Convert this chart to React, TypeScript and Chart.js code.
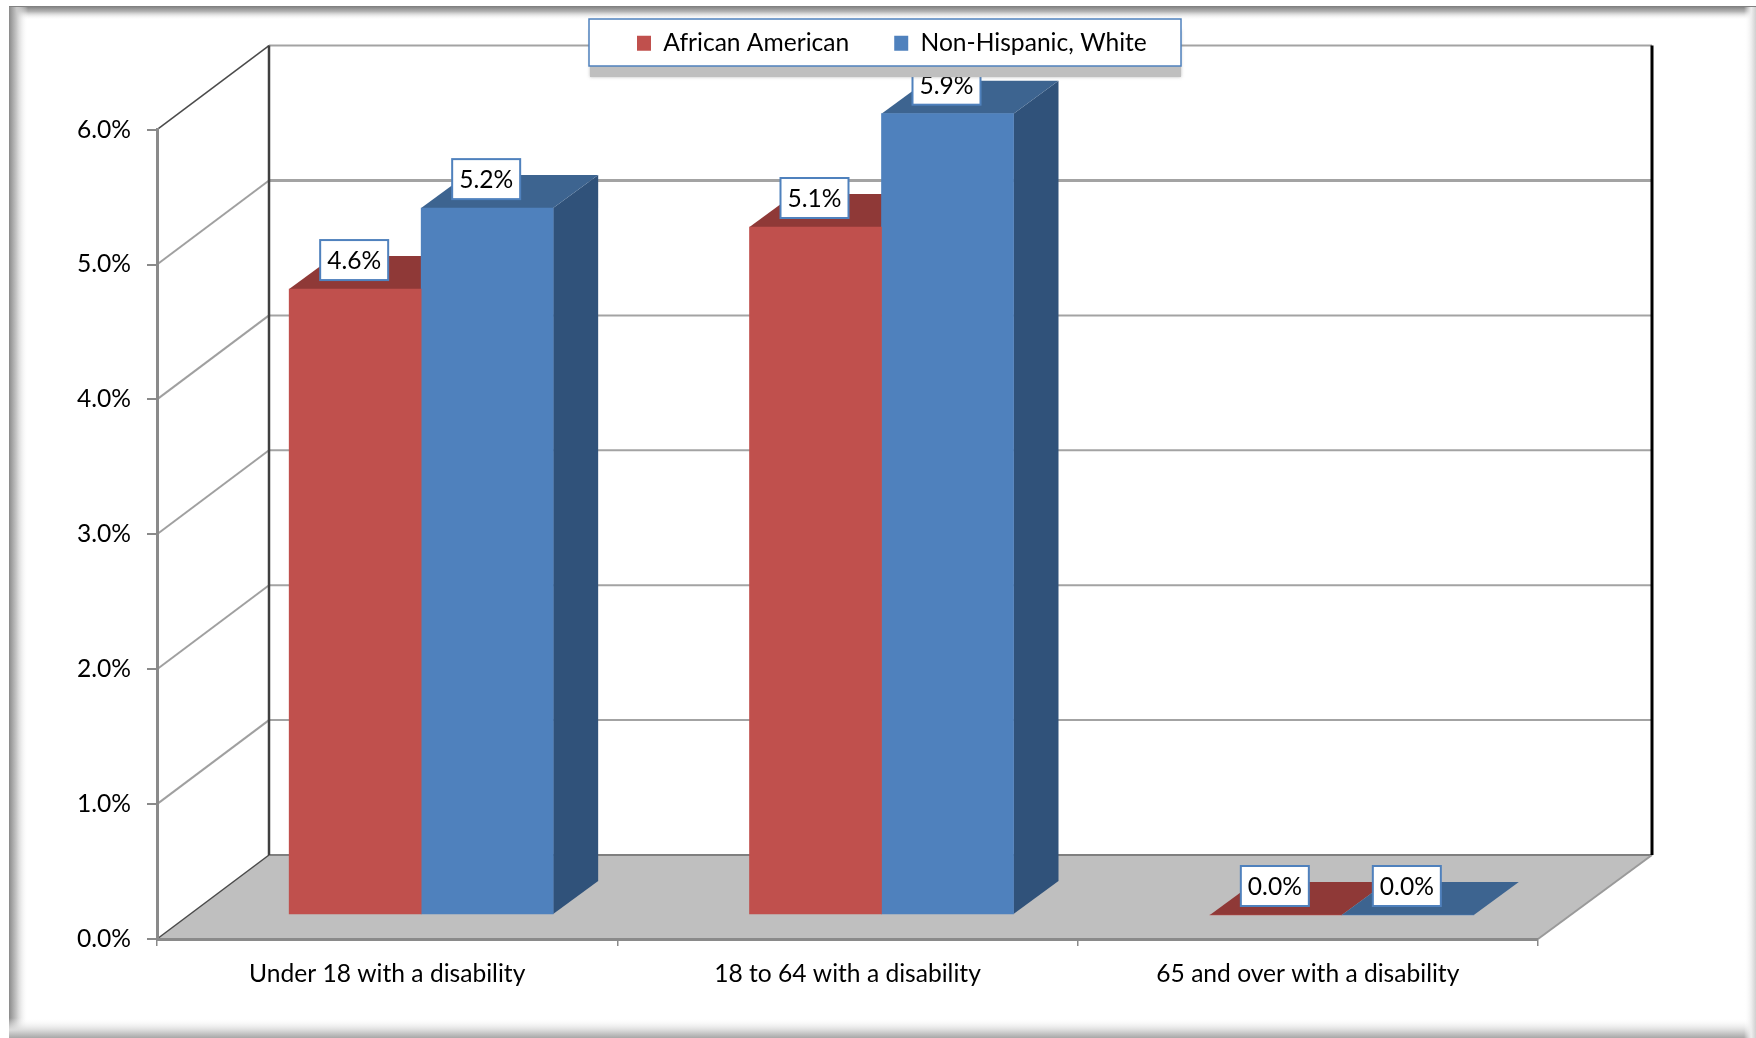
import React, { useEffect, useRef } from "react";
import { Chart, registerables } from "chart.js";

Chart.register(...registerables);

const categories = ["Under 18 with a disability", "18 to 64 with a disability", "65 and over with a disability"];
const seriesNames = ["African American", "Non-Hispanic, White"];
const africanAmerican = [4.64, 5.1, 0];
const nonHispanicWhite = [5.24, 5.94, 0];
const yTicks = [0, 1, 2, 3, 4, 5, 6];

const FONT = "Lato";
const FONT_SIZE = 24.6;
const RED = "#c0504d";
const BLUE = "#4f81bd";
const RED_TOP = "#8f3937";
const BLUE_TOP = "#3d6490";
const BLUE_SIDE = "#30527a";
const RED_SIDE = "#7a3130";
const WALL_DX = 112;
const WALL_DY = -84;
const BAR_SHIFT_X = 34;
const BAR_SHIFT_Y = -24;
const BAR_DX = 45;
const BAR_DY = -33;

const line = (ctx: any, x1: number, y1: number, x2: number, y2: number, color: string, w: number) => {
  ctx.beginPath();
  ctx.moveTo(x1, y1);
  ctx.lineTo(x2, y2);
  ctx.strokeStyle = color;
  ctx.lineWidth = w;
  ctx.stroke();
};

const poly = (ctx: any, pts: number[][], color: string) => {
  ctx.beginPath();
  pts.forEach((p, i) => (i ? ctx.lineTo(p[0], p[1]) : ctx.moveTo(p[0], p[1])));
  ctx.closePath();
  ctx.fillStyle = color;
  ctx.fill();
};

const scene3d = {
  id: "scene3d",
  afterLayout(chart: any) {
    const lg = chart.legend;
    const pad = chart.options.plugins.legend.labels.padding;
    lg.left = 637 - pad;
    lg.right = lg.left + lg.width;
    lg.top = 31 - pad;
    lg.bottom = lg.top + lg.height;
  },
  beforeDraw(chart: any) {
    const { ctx, width, height, chartArea, scales } = chart;
    const { left, right } = chartArea;
    const y = scales.y;
    ctx.save();
    ctx.fillStyle = "#ffffff";
    ctx.fillRect(0, 0, width, height);

    // photo-style frame
    const frame = (x0: number, y0: number, x1: number, y1: number, rx: number, ry: number, rw: number, rh: number, c0: string, c1: string) => {
      const g = ctx.createLinearGradient(x0, y0, x1, y1);
      g.addColorStop(0, c0);
      g.addColorStop(0.4, c1);
      g.addColorStop(1, "rgba(255,255,255,0)");
      ctx.fillStyle = g;
      ctx.fillRect(rx, ry, rw, rh);
    };
    frame(0, 6, 0, 20, 9, 6, width - 9, 14, "#7c7c7c", "#b5b5b5");
    frame(9, 0, 28, 0, 9, 7, 19, height - 7, "#8a8a8a", "#c8c8c8");
    frame(0, 1038, 0, 1018, 9, 1018, width - 9, 20, "#a8a8a8", "#dcdcdc");
    frame(1756, 0, 1744, 0, 1744, 7, 12, height - 7, "#d0d0d0", "#eeeeee");

    const y0 = y.getPixelForValue(0);
    const bx0 = left + WALL_DX;
    const bx1 = right + WALL_DX + 2;
    const by0 = y0 + WALL_DY;

    // floor
    poly(ctx, [[left, y0], [bx0, by0], [bx1, by0], [right, y0]], "#bfbfbf");

    // gridlines on the side wall and the back wall
    yTicks.forEach((t) => {
      const py = y.getPixelForValue(t);
      const edge = t === 0 || t === 6;
      line(ctx, left, py, bx0, py + WALL_DY, edge ? "#4a4a4a" : "#a0a0a0", edge ? 1.5 : 2);
      line(ctx, bx0, py + WALL_DY, bx1, py + WALL_DY, t === 0 ? "#7f7f7f" : "#a3a3a3", t === 5 ? 3 : 2);
    });
    line(ctx, right, y0, bx1, by0, "#9a9a9a", 2);
    line(ctx, bx0, y.getPixelForValue(6) + WALL_DY, bx0, by0, "#404040", 2.5);
    line(ctx, bx1, y.getPixelForValue(6) + WALL_DY, bx1, by0, "#000000", 3);
    ctx.restore();
  },
  beforeDatasetsDraw(chart: any) {
    const { ctx } = chart;
    ctx.save();
    ctx.translate(BAR_SHIFT_X, BAR_SHIFT_Y);
    const tops = [RED_TOP, BLUE_TOP];
    const sides = [RED_SIDE, BLUE_SIDE];
    chart.data.datasets.forEach((_: any, i: number) => {
      chart.getDatasetMeta(i).data.forEach((bar: any) => {
        const l = bar.x - bar.width / 2;
        const r = bar.x + bar.width / 2;
        poly(ctx, [[r, bar.y], [r + BAR_DX, bar.y + BAR_DY], [r + BAR_DX, bar.base + BAR_DY], [r, bar.base]], sides[i]);
        poly(ctx, [[l, bar.y], [l + BAR_DX, bar.y + BAR_DY], [r + BAR_DX, bar.y + BAR_DY], [r, bar.y]], tops[i]);
      });
    });
  },
  afterDatasetsDraw(chart: any) {
    const { ctx } = chart;
    // value labels sit on top of the bars, still inside the translated frame
    ctx.font = `${FONT_SIZE}px ${FONT}`;
    ctx.textAlign = "center";
    ctx.textBaseline = "middle";
    chart.data.datasets.forEach((ds: any, i: number) => {
      chart.getDatasetMeta(i).data.forEach((bar: any, j: number) => {
        const cx = bar.x - 1;
        const cy = bar.y - 29;
        ctx.fillStyle = "#ffffff";
        ctx.fillRect(cx - 34, cy - 20, 68, 40);
        ctx.strokeStyle = BLUE;
        ctx.lineWidth = 2;
        ctx.strokeRect(cx - 34, cy - 20, 68, 40);
        ctx.fillStyle = "#000000";
        ctx.fillText(`${ds.data[j].toFixed(1)}%`, cx, cy + 1);
      });
    });
    ctx.restore();
  },
  afterDraw(chart: any) {
    const { ctx } = chart;
    ctx.save();
    // legend card with its flat shadow
    ctx.shadowColor = "rgba(140,140,140,0.6)";
    ctx.shadowBlur = 3;
    ctx.fillStyle = "#bfbfbf";
    ctx.fillRect(590, 30, 591, 47);
    ctx.shadowBlur = 0;
    ctx.shadowColor = "transparent";
    ctx.fillStyle = "#ffffff";
    ctx.fillRect(589, 19, 592, 47);
    ctx.strokeStyle = BLUE;
    ctx.lineWidth = 1.5;
    ctx.strokeRect(589, 19, 592, 47);
    ctx.restore();
    chart.legend.draw();
  },
};

export default function App() {
  const ref = useRef<HTMLCanvasElement | null>(null);
  useEffect(() => {
    const chart = new Chart(ref.current as HTMLCanvasElement, {
      type: "bar",
      data: {
        labels: categories,
        datasets: [
          { label: seriesNames[0], data: africanAmerican, backgroundColor: RED, borderWidth: 0, barThickness: 132, clip: false },
          { label: seriesNames[1], data: nonHispanicWhite, backgroundColor: BLUE, borderWidth: 0, barThickness: 132, clip: false },
        ],
      } as any,
      options: {
        responsive: false,
        animation: false,
        devicePixelRatio: 1,
        layout: { padding: { left: 0, right: 218, top: 50, bottom: 0 } },
        plugins: {
          tooltip: { enabled: false },
          legend: {
            display: true,
            position: "top",
            align: "start",
            labels: {
              boxWidth: 14,
              boxHeight: 15,
              padding: 45,
              color: "#000000",
              font: { family: FONT, size: FONT_SIZE },
            },
          },
        },
        scales: {
          x: {
            offset: true,
            afterFit: (s: any) => { s.height = 99; },
            border: { color: "#8a8a8a", width: 3 },
            grid: { offset: true, drawOnChartArea: false, drawTicks: true, tickLength: 7, color: "#8a8a8a", lineWidth: 1.5 },
            ticks: { color: "#000000", padding: 13, font: { family: FONT, size: FONT_SIZE }, maxRotation: 0 },
          },
          y: {
            min: 0,
            max: 6,
            afterFit: (s: any) => { s.width = 157; },
            border: { color: "#8a8a8a", width: 3 },
            grid: { drawOnChartArea: false, drawTicks: true, tickLength: 10, color: "#8a8a8a", lineWidth: 2 },
            ticks: {
              stepSize: 1,
              color: "#000000",
              padding: 16,
              font: { family: FONT, size: FONT_SIZE },
              callback: (v: any) => `${Number(v).toFixed(1)}%`,
            },
          },
        },
      } as any,
      plugins: [scene3d],
    } as any);
    return () => chart.destroy();
  }, []);
  return (
    <div style={{ position: "absolute", left: 0, top: 0, width: 1756, height: 1038 }}>
      <canvas ref={ref} width={1756} height={1038} style={{ display: "block" }} />
    </div>
  );
}
